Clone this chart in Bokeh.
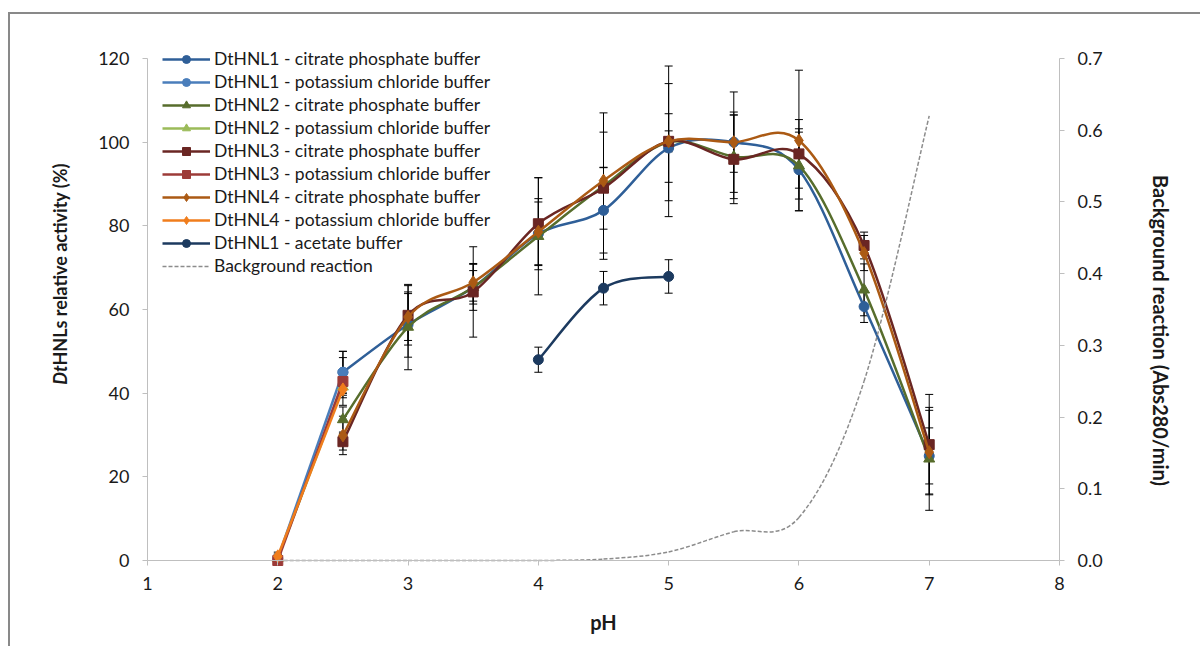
import math
from bokeh.plotting import figure
from bokeh.models import (Range1d, LinearAxis, FixedTicker, NumeralTickFormatter, Legend,
                          LegendItem, Label, Whisker, ColumnDataSource, TeeHead)
from bokeh.embed import file_html
from bokeh.resources import INLINE

# ---------------- data ----------------
ph_cp = [2.5, 3, 3.5, 4, 4.5, 5, 5.5, 6, 6.5, 7]
ph_kcl = [2, 2.5]
ph_ac = [4, 4.5, 5]
ph_bg = [2, 2.5, 3, 3.5, 4, 4.5, 5, 5.5, 6, 6.5, 7]

hnl1_cp = [45, 56.4, 65.3, 78.1, 83.7, 98.6, 100, 93.4, 60.7, 25.0]
hnl1_cp_err = [5, 7.8, 4, 7.6, 10.2, 8.2, 7.2, 9.8, 3.8, 6.7]
hnl2_cp = [33.7, 55.8, 65.3, 77.5, 89.5, 100, 96.5, 94.4, 64.7, 24.3]
hnl2_cp_err = [3, 10.2, 5.5, 14, 17.5, 14, 10, 8, 6.2, 12.3]
hnl3_cp = [28.4, 58.6, 64.2, 80.5, 89, 100.2, 95.9, 97.2, 75.3, 27.7]
hnl3_cp_err = [2, 7.1, 10.8, 11, 5, 2.5, 10.6, 8.2, 3.2, 12]
hnl4_cp = [29.9, 58.2, 66.5, 78.6, 90.8, 100.2, 100, 100.4, 73.5, 25.9]
hnl4_cp_err = [4.6, 5.6, 4.5, 7.9, 11.6, 18, 12, 16.8, 4.2, 10]

hnl1_kcl = [0.5, 45]
hnl1_kcl_err = [1, 5]
hnl2_kcl = [0.5, 41.5]
hnl2_kcl_err = [1, 2]
hnl3_kcl = [0, 42.8]
hnl3_kcl_err = [1, 5.7]
hnl4_kcl = [1, 40.9]
hnl4_kcl_err = [1, 2]

hnl1_ac = [48, 65.1, 67.9]
hnl1_ac_err = [3, 4, 4]

background = [0, 0, 0, 0, 0, 0.002, 0.012, 0.040, 0.060, 0.25, 0.62]

x_ticks = [1, 2, 3, 4, 5, 6, 7, 8]
y_ticks = [0, 20, 40, 60, 80, 100, 120]
y2_ticks = [0, 0.1, 0.2, 0.3, 0.4, 0.5, 0.6, 0.7]

names = ["DtHNL1 - citrate phosphate buffer", "DtHNL1 - potassium chloride buffer",
         "DtHNL2 - citrate phosphate buffer", "DtHNL2 - potassium chloride buffer",
         "DtHNL3 - citrate phosphate buffer", "DtHNL3 - potassium chloride buffer",
         "DtHNL4 - citrate phosphate buffer", "DtHNL4 - potassium chloride buffer",
         "DtHNL1 - acetate buffer", "Background reaction"]

FONT = "Lato"

# ---------------- geometry (canvas pixels) ----------------
W, H = 1192, 634
FL, FR, FT, FB = 137, 1049, 44, 546       # plot box: pH 1..8, activity 120..0
XMIN, XMAX, YMIN, YMAX, Y2MAX = 1, 8, 0, 120, 0.7
ux = (XMAX - XMIN) / (FR - FL)
uy = (YMAX - YMIN) / (FB - FT)
x_start, x_end = XMIN - FL * ux, XMAX + (W - FR) * ux
y_start, y_end = YMIN - (H - FB) * uy, YMAX + FT * uy
k2 = Y2MAX / YMAX

p = figure(width=W, height=H, output_backend="svg", toolbar_location=None,
           x_range=Range1d(x_start, x_end), y_range=Range1d(y_start, y_end),
           min_border=0, background_fill_color="white", border_fill_color="white",
           outline_line_color=None)
p.styles = {"margin-left": "8px", "margin-top": "12px",
            "border-left": "2px solid #898989", "border-top": "2px solid #898989"}
p.extra_y_ranges = {"bg": Range1d(y_start * k2, y_end * k2)}
p.xgrid.visible = False
p.ygrid.visible = False

def style_axis(ax, ticks):
    ax.ticker = FixedTicker(ticks=ticks)
    ax.axis_line_color = "#bfbfbf"
    ax.axis_line_width = 1
    ax.major_tick_line_color = "#bfbfbf"
    ax.major_tick_out = 5
    ax.major_tick_in = 0
    ax.minor_tick_line_color = None
    ax.major_label_text_font = FONT
    ax.major_label_text_font_size = "18px"
    ax.major_label_text_color = "#1a1a1a"
    ax.axis_label = None

xa = p.xaxis[0]
style_axis(xa, x_ticks)
xa.fixed_location = 0
xa.bounds = (XMIN, XMAX)
xa.major_label_standoff = 11
ya = p.yaxis[0]
style_axis(ya, y_ticks)
ya.fixed_location = XMIN
ya.bounds = (YMIN, YMAX)
ya.major_label_standoff = 13
ax2 = LinearAxis(y_range_name="bg")
style_axis(ax2, y2_ticks)
ax2.formatter = NumeralTickFormatter(format="0.0")
ax2.fixed_location = XMAX
ax2.bounds = (0, Y2MAX)
ax2.major_label_standoff = 13
p.add_layout(ax2, "right")

# ---------------- smoothing helper (Bezier through the data points) ----------------
def bez_source(xs, ys):
    n = len(xs)
    d = dict(x0=[], y0=[], x1=[], y1=[], cx0=[], cy0=[], cx1=[], cy1=[])
    for i in range(n - 1):
        a = i - 1 if i > 0 else i
        b = i + 2 if i + 2 < n else i + 1
        d["x0"].append(xs[i]); d["y0"].append(ys[i])
        d["x1"].append(xs[i + 1]); d["y1"].append(ys[i + 1])
        d["cx0"].append(xs[i] + (xs[i + 1] - xs[a]) / 6.0)
        d["cy0"].append(ys[i] + (ys[i + 1] - ys[a]) / 6.0)
        d["cx1"].append(xs[i + 1] - (xs[b] - xs[i]) / 6.0)
        d["cy1"].append(ys[i + 1] - (ys[b] - ys[i]) / 6.0)
    return ColumnDataSource(d)

def whiskers(xs, ys, errs):
    src = ColumnDataSource(dict(x=xs, lo=[y - e for y, e in zip(ys, errs)],
                                hi=[y + e for y, e in zip(ys, errs)]))
    w = Whisker(source=src, base="x", lower="lo", upper="hi",
                line_color="black", line_width=1,
                upper_head=TeeHead(size=8, line_color="black", line_width=1),
                lower_head=TeeHead(size=8, line_color="black", line_width=1))
    p.add_layout(w)

series = [
    (ph_cp, hnl1_cp, hnl1_cp_err, "#2f5f98", "circle", 10, True),
    (ph_kcl, hnl1_kcl, hnl1_kcl_err, "#4a7ebb", "circle", 10, False),
    (ph_cp, hnl2_cp, hnl2_cp_err, "#576d2c", "triangle", 11, True),
    (ph_kcl, hnl2_kcl, hnl2_kcl_err, "#9bbb59", "triangle", 11, False),
    (ph_cp, hnl3_cp, hnl3_cp_err, "#6a2623", "square", 10, True),
    (ph_kcl, hnl3_kcl, hnl3_kcl_err, "#9c3b38", "square", 10, False),
    (ph_cp, hnl4_cp, hnl4_cp_err, "#ab5a14", "diamond", 13, True),
    (ph_kcl, hnl4_kcl, hnl4_kcl_err, "#f07d1c", "diamond", 13, False),
    (ph_ac, hnl1_ac, hnl1_ac_err, "#1c3a5f", "circle", 10, True),
]

LW = 2.5
items = []
nan = float("nan")
for (xs, ys, errs, col, mk, sz, smooth), name in zip(series, names):
    whiskers(xs, ys, errs)
    if smooth:
        p.bezier(x0="x0", y0="y0", x1="x1", y1="y1", cx0="cx0", cy0="cy0", cx1="cx1", cy1="cy1",
                 source=bez_source(xs, ys), line_color=col, line_width=LW)
    else:
        p.line(xs, ys, line_color=col, line_width=LW)
    dummy = p.line([nan], [nan], line_color=col, line_width=LW)
    sc = p.scatter(xs, ys, marker=mk, size=sz, fill_color=col, line_color=col)
    items.append(LegendItem(label=name, renderers=[dummy, sc]))

# background reaction on the secondary axis
p.bezier(x0="x0", y0="y0", x1="x1", y1="y1", cx0="cx0", cy0="cy0", cx1="cx1", cy1="cy1",
         source=bez_source(ph_bg, background), line_color="#8c8c8c", line_width=1.5,
         line_dash="4 2", y_range_name="bg")
dummy_bg = p.line([nan], [nan], line_color="#8c8c8c", line_width=1.5, line_dash="4 2")
items.append(LegendItem(label=names[-1], renderers=[dummy_bg]))

legend = Legend(items=items, location=(152, 372), orientation="vertical",
                glyph_width=48, glyph_height=20, label_height=20, spacing=2,
                padding=0, margin=0, label_standoff=4,
                border_line_color=None, background_fill_alpha=0,
                label_text_font=FONT, label_text_font_size="17.5px", label_text_color="#1a1a1a")
p.add_layout(legend)

# ---------------- axis titles ----------------
def cx(px):   # reference-image x pixel -> data x
    return XMIN + (px - 147) * ux

def cy(py):   # reference-image y pixel -> data y
    return (560 - py) * uy

p.add_layout(Label(x=cx(59), y=cy(365), text="Dt", angle=math.pi / 2,
                   text_align="right", text_baseline="middle", text_font=FONT,
                   text_font_size="18px", text_font_style="bold italic", text_color="#1a1a1a"))
p.add_layout(Label(x=cx(59), y=cy(365), text="HNLs relative activity (%)",
                   angle=math.pi / 2, text_align="left", text_baseline="middle",
                   text_font=FONT, text_font_size="18px", text_font_style="bold",
                   text_color="#1a1a1a"))
p.add_layout(Label(x=cx(1160), y=cy(330),
                   text="Background reaction (Abs280/min)", angle=-math.pi / 2,
                   text_align="center", text_baseline="middle", text_font=FONT,
                   text_font_size="20px", text_font_style="bold", text_color="#1a1a1a"))
p.add_layout(Label(x=cx(603), y=cy(621), text="pH",
                   text_align="center", text_baseline="middle", text_font=FONT,
                   text_font_size="20px", text_font_style="bold", text_color="#1a1a1a"))

open("out.html", "w").write(file_html(p, INLINE))
